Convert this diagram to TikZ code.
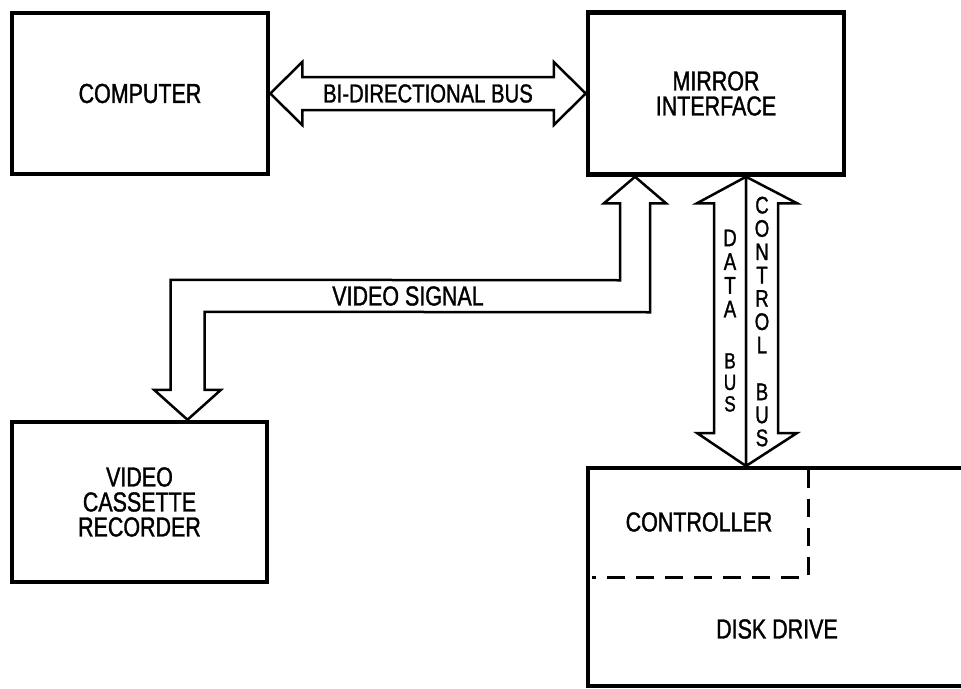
\documentclass[tikz,border=0pt]{standalone}
\usepackage{fontspec}
\newfontfamily\cond[FakeStretch=0.78,FakeBold=1.2]{Liberation Sans}
\usetikzlibrary{calc}
\tikzset{
  box/.style={draw, line width=4.5pt, inner sep=0pt, align=center, font=\cond\fontsize{27.5}{25}\selectfont},
  label/.style={inner sep=0pt, align=center, font=\cond\fontsize{27.5}{25}\selectfont},
  vlabel/.style={inner sep=0pt, align=center},
  bus/.style={draw, line width=2.5pt, fill=white, line join=miter},
  dashline/.style={line width=3pt, dash pattern=on 18pt off 11pt},
  frame/.style={line width=4.5pt}
}
\begin{document}
\begin{tikzpicture}[x=1pt,y=-1pt]
\useasboundingbox (0,0) rectangle (961,688);
\fill[white] (0,0) rectangle (961,688);
% boxes
\node[box, minimum width=256pt, minimum height=161pt] (computer) at (140,93.5) {COMPUTER};
\node[box, minimum width=256pt, minimum height=162pt] (mirror) at (716,93.5) {MIRROR\\INTERFACE};
\node[box, minimum width=255pt, minimum height=160pt] (vcr) at (139.5,502) {VIDEO\\CASSETTE\\RECORDER};
% disk drive (extends past right edge)
\draw[frame] (975,468) -- (588,468) -- (588,686) -- (975,686);
\coordinate (disktop) at (746,466);
\draw[dashline] (808,470) -- (808,577) -- (592,577);
\node[label] (controller) at (699,522) {CONTROLLER};
\node[label] (disk) at (777,629) {DISK DRIVE};
% bi-directional bus
\draw[bus] (computer.east) -- ++(32,-31.5) -- ++(0,15) -- ($(mirror.west)+(-32,-16.5)$) -- ++(0,-15) -- (mirror.west) -- ++(-32,31.5) -- ++(0,-15) -- ($(computer.east)+(32,16.5)$) -- ++(0,15) -- cycle;
\node[label, font=\cond\fontsize{26}{25}\selectfont] (bidir) at (428,93.5) {BI-DIRECTIONAL BUS};
% video signal
\coordinate (vt) at ($(mirror.south)+(-81,0)$);
\coordinate (vb) at ($(vcr.north)+(48,0)$);
\draw[bus] (vt) -- ($(vt)+(31,26.5)$) -- ($(vt)+(15,26.5)$) -- ($(vt)+(15,135.5)$) -- ($(vb)+(17,-108)$) -- ($(vb)+(17,-30)$) -- ($(vb)+(33.5,-30)$) -- (vb) -- ($(vb)+(-33.5,-30)$) -- ($(vb)+(-17,-30)$) -- ($(vb)+(-17,-140)$) -- ($(vt)+(-15,103.5)$) -- ($(vt)+(-15,26.5)$) -- ($(vt)+(-31,26.5)$) -- cycle;
\node[label] (vsig) at (408,296) {VIDEO SIGNAL};
% data / control bus
\coordinate (dt) at ($(mirror.south)+(30,0)$);
\draw[bus] (dt) -- ++(-49,26.5) -- ++(17,0) -- ($(disktop)+(-32,-33)$) -- ++(-17,0) -- (disktop) -- cycle;
\draw[bus] (dt) -- ++(51,26.5) -- ++(-19,0) -- ($(disktop)+(32,-33)$) -- ++(19,0) -- (disktop) -- cycle;
\node[vlabel, font=\cond\fontsize{24}{23.7}\selectfont] (data) at (730,273.5) {D\\A\\T\\A};
\node[vlabel, font=\cond\fontsize{22}{21.5}\selectfont] (bus1) at (730,382.5) {B\\U\\S};
\node[vlabel, font=\cond\fontsize{24}{23.3}\selectfont] (control) at (762,275) {C\\O\\N\\T\\R\\O\\L};
\node[vlabel, font=\cond\fontsize{24}{23}\selectfont] (bus2) at (762,415) {B\\U\\S};
\end{tikzpicture}
\end{document}
